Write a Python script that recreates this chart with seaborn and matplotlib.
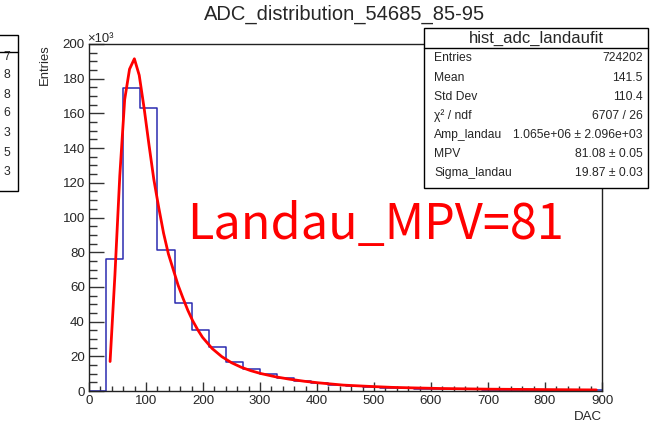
import numpy as np
import pandas as pd
import matplotlib
matplotlib.use("Agg")
import matplotlib.pyplot as plt
from matplotlib.patches import Rectangle
from matplotlib.lines import Line2D
import seaborn as sns

# ---------------- data ----------------
bin_edges = list(range(0, 901, 30))
counts_k = [0, 76, 174.5, 163, 81, 51, 35, 25.5, 17, 12.8, 9.8, 7.5, 5.7, 4.6,
            3.3, 2.8, 2.3, 1.9, 1.6, 1.4, 1.3, 1.1, 1.0, 0.8, 0.8, 0.7, 0.7,
            0.6, 0.6, 0.5]

fit_x = [37, 45.5, 54, 62.6, 71.1, 79.6, 88.1, 96.7, 105.2, 113.7, 122.2, 130.8,
         139.3, 147.8, 156.3, 164.9, 173.4, 181.9, 190.4, 199, 216, 233, 250,
         267, 284, 301, 327, 352, 378, 403, 446, 489, 531, 574, 616, 659, 702,
         744, 787, 830, 872, 890]
fit_y = [17, 67, 124, 168, 185.5, 191.5, 182, 163, 142, 122, 106, 91, 79, 70,
         61, 53.5, 46.5, 40.5, 35.5, 31, 24.5, 19.8, 16.3, 13.7, 11.7, 10.1, 8.2,
         6.8, 5.6, 4.7, 3.4, 2.7, 2.1, 1.75, 1.45, 1.25, 1.05, 0.95, 0.85, 0.75,
         0.65, 0.62]

title = "ADC_distribution_54685_85-95"
stats_title = "hist_adc_landaufit"
stats_names = ["Entries", "Mean", "Std Dev", "\u03c7\u00b2 / ndf", "Amp_landau",
               "MPV", "Sigma_landau"]
stats_values = ["724202", "141.5", "110.4", "6707 / 26",
                "1.065e+06 \u00b1 2.096e+03", "81.08 \u00b1 0.05",
                "19.87 \u00b1 0.03"]
left_box_values = ["7", "8", "8", "6", "3", "5", "3"]
annotation = "Landau_MPV=81"

# ---------------- style ----------------
sns.set_style("white")
plt.rcParams["font.family"] = ["Liberation Sans", "DejaVu Sans"]

W, H = 651, 428
fig = plt.figure(figsize=(W / 100, H / 100), dpi=100)

def fx(x):
    return x / W

def fy(y):
    return 1 - y / H

L, R, T, B = 89, 602, 44, 391
ax = fig.add_axes([fx(L), fy(B), fx(R) - fx(L), fy(T) - fy(B)])

edges_arr = np.array(bin_edges, dtype=float)
centers = (edges_arr[:-1] + edges_arr[1:]) / 2
df = pd.DataFrame({"x": centers, "w": counts_k})
sns.histplot(data=df, x="x", weights="w", bins=bin_edges, element="step",
             fill=False, color="#2b2bb0", linewidth=1.1, ax=ax)

fdf = pd.DataFrame({"x": fit_x, "y": fit_y})
sns.lineplot(data=fdf, x="x", y="y", sort=False, estimator=None,
             color="#ff0000", linewidth=2.0, ax=ax)

ax.set_xlim(0, 900)
ax.set_ylim(0, 200)
ax.set_xlabel("")
ax.set_ylabel("")
ax.set_xticks(np.arange(0, 901, 100))
ax.set_xticks(np.arange(0, 901, 20), minor=True)
ax.set_yticks(np.arange(0, 201, 20))
ax.set_yticks(np.arange(0, 201, 5), minor=True)
ax.tick_params(which="both", bottom=True, left=True, top=False, right=False)
ax.xaxis.set_tick_params(which="major", direction="in", length=6.5, width=1,
                         labelsize=9.6, pad=3, color="#333333")
ax.xaxis.set_tick_params(which="minor", direction="in", length=3.3, width=1,
                         color="#333333")
ax.yaxis.set_tick_params(which="major", direction="in", length=10.8, width=1,
                         labelsize=9.6, pad=3, color="#333333")
ax.yaxis.set_tick_params(which="minor", direction="in", length=5.4, width=1,
                         color="#333333")
for s in ax.spines.values():
    s.set_visible(True)
    s.set_color("#222222")
    s.set_linewidth(1)
    s.set_zorder(5)
ax.set_facecolor("white")

ax.text(172, 87.5, annotation, color="#ff0000", fontsize=35, fontweight="light",
        family=["Noto Sans CJK SC", "DejaVu Sans"], va="baseline", ha="left")

# titles and axis labels
fig.text(fx(345), fy(14.5), title, ha="center", va="center", fontsize=14.5)
fig.text(fx(45), fy(44), "Entries", rotation=90, ha="center", va="top",
         fontsize=9.4)
fig.text(fx(602), fy(417), "DAC", ha="right", va="center", fontsize=9.6)
fig.text(fx(87), fy(42), "\u00d710\u00b3", ha="left", va="baseline",
         fontsize=9.4)

# stats box (right)
bx0, bx1, by0, by1, bsep = 424, 648, 28, 188, 47.7
fig.patches.append(Rectangle((fx(bx0), fy(by1)), fx(bx1) - fx(bx0),
                             fy(by0) - fy(by1), transform=fig.transFigure,
                             facecolor="white", edgecolor="black",
                             linewidth=1, zorder=10))
fig.lines.append(Line2D([fx(bx0), fx(bx1)], [fy(bsep), fy(bsep)],
                        transform=fig.transFigure, color="black",
                        linewidth=1, zorder=11))
fig.text(fx((bx0 + bx1) / 2), fy(38.3), stats_title, ha="center", va="center",
         fontsize=12, zorder=12)
row_y = [58.3, 77.7, 96.7, 116, 135, 154.3, 173.3]
for yy, n, v in zip(row_y, stats_names, stats_values):
    fig.text(fx(434), fy(yy), n, ha="left", va="center", fontsize=8.7,
             zorder=12)
    fig.text(fx(642.7), fy(yy), v, ha="right", va="center", fontsize=8.7,
             zorder=12)

# stats box (left, mostly off-canvas)
lx0, lx1, ly0, ly1, lsep = -20, 18.3, 35, 191, 51.7
fig.patches.append(Rectangle((fx(lx0), fy(ly1)), fx(lx1) - fx(lx0),
                             fy(ly0) - fy(ly1), transform=fig.transFigure,
                             facecolor="white", edgecolor="black",
                             linewidth=1, zorder=10))
fig.lines.append(Line2D([fx(lx0), fx(lx1)], [fy(lsep), fy(lsep)],
                        transform=fig.transFigure, color="black",
                        linewidth=1, zorder=11))
lrow_y = [56.7, 75, 94.5, 113, 132.5, 152.5, 171.7]
for yy, v in zip(lrow_y, left_box_values):
    fig.text(fx(10.5), fy(yy), v, ha="right", va="center", fontsize=8.7,
             zorder=12)

fig.savefig("out.png", dpi=100, facecolor="white")
